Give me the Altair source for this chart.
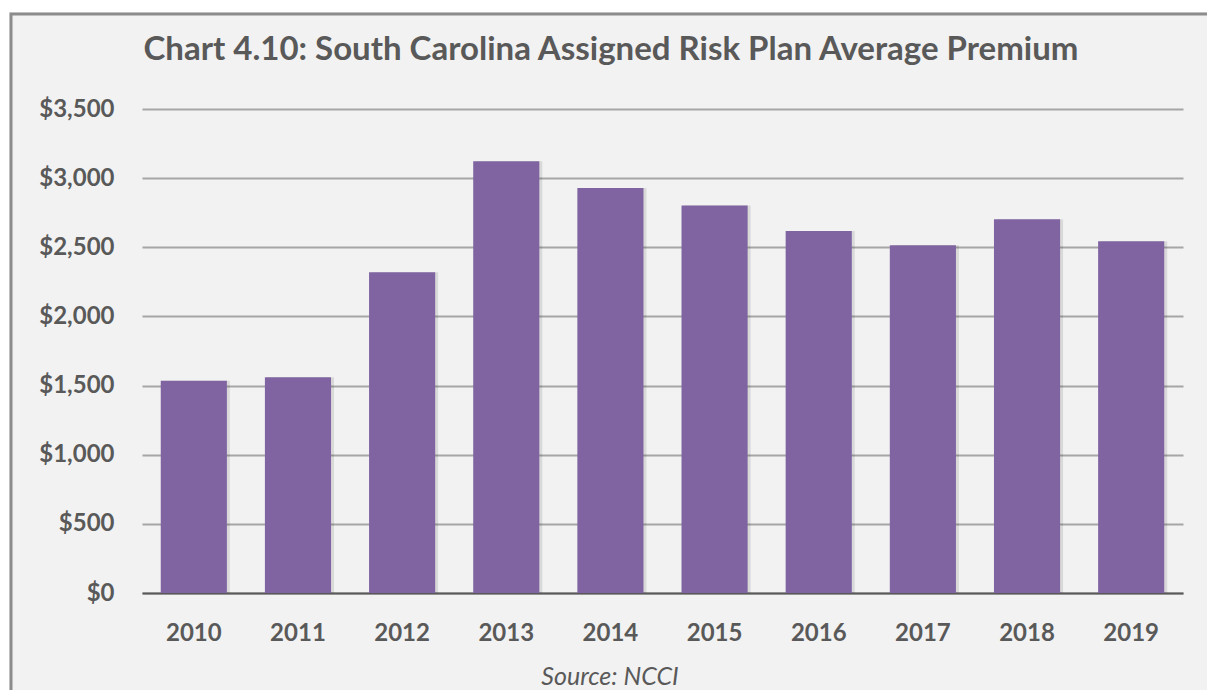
import altair as alt
import pandas as pd

years = ["2010", "2011", "2012", "2013", "2014", "2015", "2016", "2017", "2018", "2019"]
premiums = [1534, 1560, 2320, 3122, 2929, 2802, 2617, 2515, 2703, 2544]
title_text = "Chart 4.10: South Carolina Assigned Risk Plan Average Premium"
source_text = "Source: NCCI"

df = pd.DataFrame({"year": years, "premium": premiums})

TEXT = "#595959"
FONT = "Lato"

xenc = alt.X("year:N", title=None, sort=years,
             scale=alt.Scale(paddingInner=0.365, paddingOuter=0.18),
             axis=alt.Axis(labelAngle=0, labelFont=FONT, labelFontSize=24, labelFontWeight="bold",
                           labelColor=TEXT, ticks=False, tickSize=0, labelPadding=28,
                           domainColor="#595959", domainWidth=2, grid=False))
yenc = alt.Y("premium:Q", title=None,
             scale=alt.Scale(domain=[0, 3500]),
             axis=alt.Axis(values=[0, 500, 1000, 1500, 2000, 2500, 3000, 3500],
                           format="$,.0f", labelFont=FONT, labelFontSize=24, labelFontWeight="bold",
                           labelColor=TEXT, ticks=False, tickSize=0, labelPadding=28,
                           domain=False, gridColor="#a6a6a6", gridWidth=2))

one = pd.DataFrame({"f": [1]})

# white margin strips outside the chart frame, and the frame border itself
top_strip = alt.Chart(one).mark_rect(fill="white").encode(
    x=alt.value(-140), x2=alt.value(1100), y=alt.value(-110), y2=alt.value(-97))
left_strip = alt.Chart(one).mark_rect(fill="white").encode(
    x=alt.value(-140), x2=alt.value(-133), y=alt.value(-110), y2=alt.value(700))
frame = alt.Chart(one).mark_rect(filled=False, stroke="#8c8c8c", strokeWidth=3).encode(
    x=alt.value(-131), x2=alt.value(1120), y=alt.value(-95), y2=alt.value(700))

shadow = alt.Chart(df).mark_bar(color="#000000", opacity=0.1, xOffset=3).encode(x=xenc, y=yenc)
bars = alt.Chart(df).mark_bar(color="#8064A2").encode(x=xenc, y=yenc)

title = alt.Chart(pd.DataFrame({"t": [title_text]})).mark_text(
    font=FONT, fontSize=33, fontWeight="bold", color=TEXT, align="center", baseline="alphabetic"
).encode(text="t:N", x=alt.value(469), y=alt.value(-49))

source = alt.Chart(pd.DataFrame({"t": [source_text]})).mark_text(
    font=FONT, fontSize=25, fontStyle="italic", color=TEXT, align="center", baseline="alphabetic"
).encode(text="t:N", x=alt.value(468), y=alt.value(576))

chart = alt.layer(top_strip, left_strip, frame, shadow, bars, title, source).properties(
    width=1041, height=484,
    autosize=alt.AutoSizeParams(type="none"),
    padding={"left": 134, "top": 101, "right": 24, "bottom": 97},
    background="#f2f2f2",
).configure_view(stroke=None)

chart.save("out.html", embed_options={"renderer": "svg", "actions": False})
